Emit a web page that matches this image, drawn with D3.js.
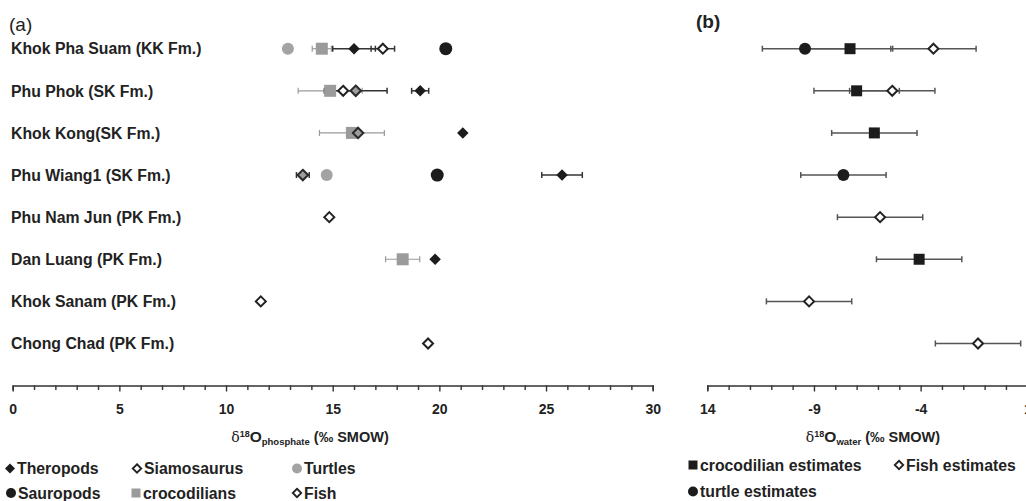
<!DOCTYPE html>
<html><head><meta charset="utf-8">
<script src="https://cdn.jsdelivr.net/npm/d3@7"></script>
<style>
body{margin:0;background:#fff;}
svg{display:block;font-family:"Liberation Sans",Arial,sans-serif;}
</style></head>
<body><svg id="chart" width="1026" height="501"></svg>
<script>
// ---------- data ----------
const sites = ["Khok Pha Suam (KK Fm.)","Phu Phok (SK Fm.)","Khok Kong(SK Fm.)","Phu Wiang1 (SK Fm.)",
  "Phu Nam Jun (PK Fm.)","Dan Luang (PK Fm.)","Khok Sanam (PK Fm.)","Chong Chad (PK Fm.)"];

// panel (a): δ18O phosphate (‰ SMOW)
const theropods     = [16.0, 19.1, 21.1, 25.75, null, 19.8, null, null];
const theropodsErr  = [1.0, 0.4, null, 0.95, null, null, null, null];
const sauropods     = [20.3, null, null, 19.9, null, null, null, null];
const siamosaurus   = [null, 16.08, 16.19, 13.6, null, null, null, null];
const siamosaurusErr= [null, 1.47, null, 0.3, null, null, null, null];
const crocodilians  = [14.49, 14.88, 15.9, null, null, 18.28, null, null];
const crocodiliansErr=[0.45, 1.5, 1.52, null, null, 0.8, null, null];
const turtles       = [12.9, null, null, 14.72, null, null, null, null];
const fish          = [17.35, 15.49, null, null, 14.84, null, 11.63, 19.47];
const fishErr       = [0.55, null, null, null, null, null, null, null];
const phosTicks     = [0, 5, 10, 15, 20, 25, 30];

// panel (b): δ18O water (‰ SMOW)
const crocWater     = [-7.31, -7.0, -6.17, null, null, -4.07, null, null];
const turtleWater   = [-9.42, null, null, -7.62, null, null, null, null];
const fishWater     = [-3.4, -5.33, null, null, -5.9, null, -9.23, -1.31];
const waterErr      = 2;
const waterTicks    = [-14, -9, -4, 1];
const waterTickLabels = ["14", "-9", "-4", "1"];

// ---------- setup ----------
const svg = d3.select("#chart");
const TXT = "#222";
const y = d3.scalePoint().domain(sites).range([48.7, 343.5]);
const xa = d3.scaleLinear().domain([0, 30]).range([12.7, 652.7]);
const xb = d3.scaleLinear().domain([-14, 1]).range([707.3, 1027.3]);
const AXIS_Y = 385.5;

function diamondPath(w){ const h=w/2; return `M0,${-h}L${h},0L0,${h}L${-h},0Z`; }
const circleP = r => `M${-r},0A${r},${r} 0 1,0 ${r},0A${r},${r} 0 1,0 ${-r},0Z`;
const squareP = w => `M${-w/2},${-w/2}h${w}v${w}h${-w}Z`;

// ---------- row labels ----------
svg.append("g").selectAll("text").data(sites).join("text")
  .attr("x", 11).attr("y", d => y(d)).attr("dy", "0.36em")
  .attr("font-size", 15.8).attr("font-weight", "bold").attr("fill", TXT)
  .text(d => d);

svg.append("text").attr("x", 9).attr("y", 31).attr("font-size", 19).attr("fill", TXT).text("(a)");
svg.append("text").attr("x", 696).attr("y", 28).attr("font-size", 19).attr("font-weight","bold").attr("fill", TXT).text("(b)");

// ---------- helpers ----------
function errBars(g, x, vals, errs, color, width){
  const data = sites.map((s,i)=>({s, v: vals[i], e: (typeof errs==="number"? errs : errs[i])}))
    .filter(d => d.v != null && d.e != null);
  const gg = g.append("g").attr("stroke", color).attr("stroke-width", width).attr("fill","none");
  gg.selectAll("line.h").data(data).join("line").attr("class","h")
    .attr("x1", d => x(d.v - d.e)).attr("x2", d => x(d.v + d.e))
    .attr("y1", d => y(d.s)).attr("y2", d => y(d.s));
  [-1, 1].forEach(sgn => {
    gg.selectAll("line.c"+(sgn>0?"p":"m")).data(data).join("line").attr("class","c"+(sgn>0?"p":"m"))
      .attr("x1", d => x(d.v + sgn*d.e)).attr("x2", d => x(d.v + sgn*d.e))
      .attr("y1", d => y(d.s) - 3).attr("y2", d => y(d.s) + 3);
  });
}
function points(g, x, vals){
  return g.append("g").selectAll("path").data(sites.map((s,i)=>({s, v: vals[i]})).filter(d=>d.v!=null))
    .join("path").attr("transform", d => `translate(${x(d.v)},${y(d.s)})`);
}

// ---------- panel (a) ----------
const ga = svg.append("g");
errBars(ga, xa, crocodilians, crocodiliansErr, "#9a9a9a", 1.2);
errBars(ga, xa, theropods, theropodsErr, "#333", 1.5);
errBars(ga, xa, siamosaurus, siamosaurusErr, "#333", 1.5);
errBars(ga, xa, fish, fishErr, "#333", 1.5);

points(ga, xa, turtles).attr("d", circleP(6)).attr("fill", "#a3a3a3");
points(ga, xa, crocodilians).attr("d", squareP(12)).attr("fill", "#9b9b9b");
points(ga, xa, sauropods).attr("d", circleP(6.5)).attr("fill", "#1c1c1c");
points(ga, xa, theropods).attr("d", diamondPath(11.5)).attr("fill", "#1c1c1c");
points(ga, xa, siamosaurus).attr("d", diamondPath(10.5)).attr("fill", "#9d9d9d").attr("stroke", "#2a2a2a").attr("stroke-width", 2);
points(ga, xa, fish).attr("d", diamondPath(10)).attr("fill", "#fff").attr("stroke", "#222").attr("stroke-width", 2);

// axes
function drawAxis(x, lo, hi, majors, labels){
  const g = svg.append("g").attr("transform", `translate(0,${AXIS_Y})`);
  const ax = d3.axisBottom(x).tickValues(d3.range(lo, hi + 1)).tickSizeOuter(0).tickSize(5)
    .tickFormat(d => { const i = majors.indexOf(d); return i >= 0 ? labels[i] : ""; });
  g.call(ax);
  g.select(".domain").attr("stroke", "#333").attr("stroke-width", 1.6);
  g.selectAll(".tick line").attr("stroke", "#333").attr("stroke-width", 1.4)
    .attr("y2", d => majors.indexOf(d) >= 0 ? 6 : 4.5);
  g.selectAll(".tick text").attr("y", 19).attr("dy", "0.71em")
    .attr("font-size", 14).attr("font-weight", "bold").attr("fill", TXT)
    .attr("font-family", '"Liberation Sans",Arial,sans-serif');
  return g;
}
drawAxis(xa, 0, 30, phosTicks, phosTicks.map(String));
drawAxis(xb, -14, 1, waterTicks, waterTickLabels);

// axis titles
function axisTitle(cx, sub){
  const t = svg.append("text").attr("x", cx).attr("y", 442).attr("text-anchor", "middle")
    .attr("font-size", 14.5).attr("font-weight", "bold").attr("fill", TXT);
  t.append("tspan").attr("font-family", '"DejaVu Serif","Liberation Serif",serif').attr("font-weight","normal").attr("font-size", 14).text("δ");
  t.append("tspan").attr("font-size", 9).attr("dy", -5.5).text("18");
  t.append("tspan").attr("font-size", 15.5).attr("dy", 5.5).text("O");
  t.append("tspan").attr("font-size", 9.5).attr("dy", 3).text(sub);
  t.append("tspan").attr("font-size", 14.5).attr("dy", -3).text(" (‰ SMOW)");
}
axisTitle(310, "phosphate");
axisTitle(873, "water");

// ---------- panel (b) ----------
const gb = svg.append("g");
errBars(gb, xb, crocWater, waterErr, "#555", 1.5);
errBars(gb, xb, turtleWater, waterErr, "#555", 1.5);
errBars(gb, xb, fishWater, waterErr, "#555", 1.5);
points(gb, xb, turtleWater).attr("d", circleP(6)).attr("fill", "#1c1c1c");
points(gb, xb, crocWater).attr("d", squareP(11)).attr("fill", "#1c1c1c");
points(gb, xb, fishWater).attr("d", diamondPath(10)).attr("fill", "#fff").attr("stroke", "#222").attr("stroke-width", 2);

// ---------- legends ----------
const legendA = [
  {label:"Theropods",   x:10,  y:468.5, shape:"diamond", fill:"#1c1c1c"},
  {label:"Siamosaurus", x:137, y:468.5, shape:"odiamond", fill:"#fff"},
  {label:"Turtles",     x:297, y:468.5, shape:"circle", fill:"#a3a3a3"},
  {label:"Sauropods",   x:11,  y:493,   shape:"circle", fill:"#1c1c1c"},
  {label:"crocodilians",x:136, y:493,   shape:"square", fill:"#9b9b9b"},
  {label:"Fish",        x:297, y:493,   shape:"odiamond", fill:"#fff"}
];
const legendB = [
  {label:"crocodilian estimates", x:693, y:465,   shape:"square", fill:"#1c1c1c"},
  {label:"Fish estimates",        x:899, y:465,   shape:"odiamond", fill:"#fff"},
  {label:"turtle estimates",      x:693, y:491.5, shape:"circle", fill:"#1c1c1c"}
];
function drawLegend(items){
  const g = svg.append("g").selectAll("g").data(items).join("g")
    .attr("transform", d => `translate(${d.x},${d.y})`);
  g.append("path").attr("d", d => d.shape==="circle" ? circleP(5) : d.shape==="square" ? squareP(9) : diamondPath(d.shape==="diamond"?10:8.5))
    .attr("fill", d => d.fill)
    .attr("stroke", d => d.shape==="odiamond" ? "#222" : "none").attr("stroke-width", 1.8);
  g.append("text").attr("x", 7).attr("dy", "0.36em").attr("font-size", 15.8).attr("font-weight","bold")
    .attr("fill", TXT).text(d => d.label);
}
drawLegend(legendA);
drawLegend(legendB);
</script></body></html>
